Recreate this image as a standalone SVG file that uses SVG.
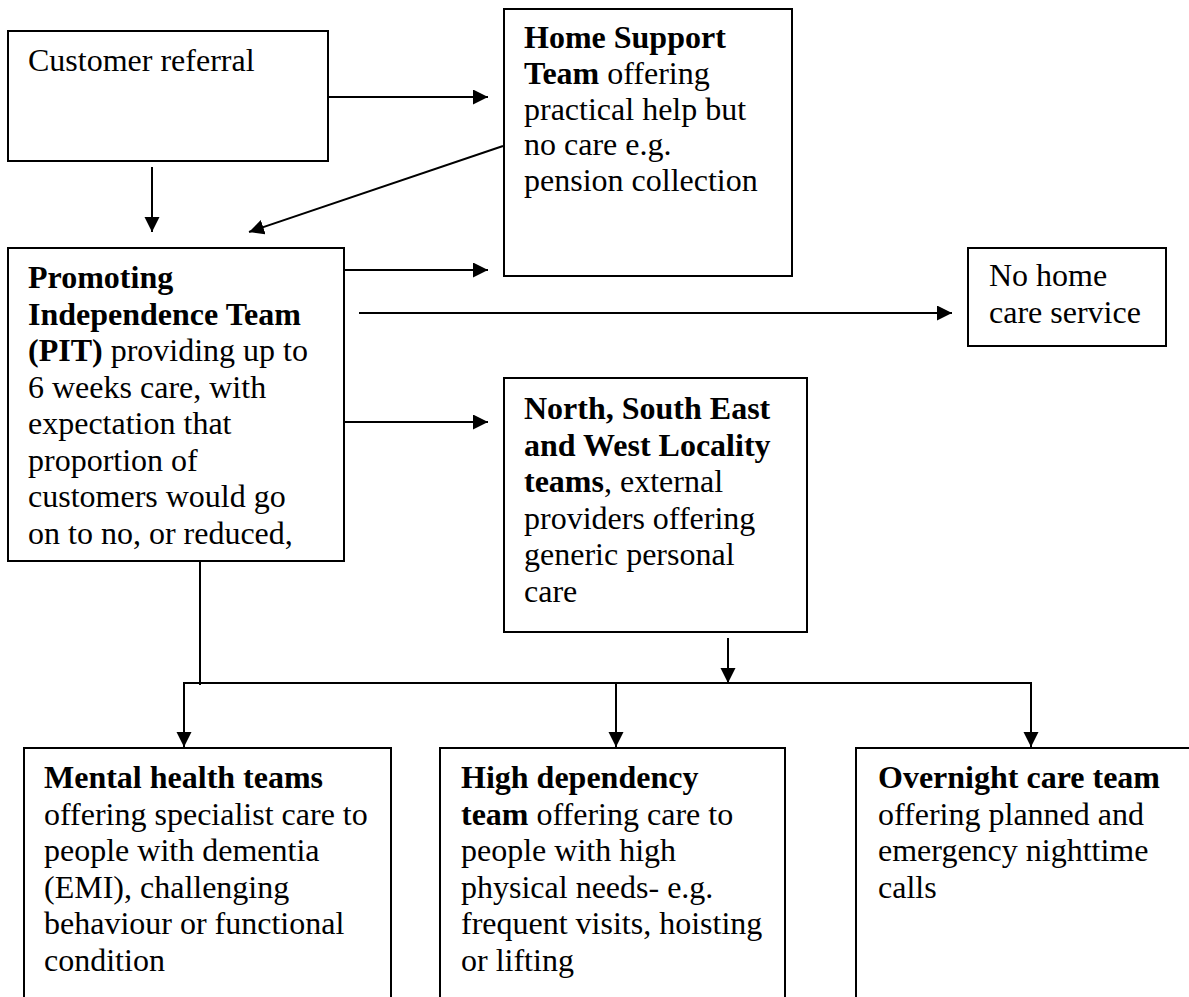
<svg xmlns="http://www.w3.org/2000/svg" width="1189" height="997" viewBox="0 0 1189 997">
<style>
.box{fill:#fff;stroke:#000;stroke-width:2}
.ln{fill:none;stroke:#000;stroke-width:2}
.arr{marker-end:url(#ah)}
.t text{font-size:32px;fill:#000}
.b{font-weight:bold}
</style>
<defs>
<marker id="ah" markerUnits="userSpaceOnUse" markerWidth="16" markerHeight="16" refX="15" refY="7.5" orient="auto">
<path d="M0,0 L15,7.5 L0,15 z" fill="#000"/>
</marker>
</defs>
<rect width="1189" height="997" fill="#fff"/>
<g id="connectors">
<line class="ln arr" x1="328" y1="97" x2="488" y2="97"/>
<line class="ln arr" x1="152" y1="167" x2="152" y2="232"/>
<line class="ln arr" x1="503" y1="146" x2="249" y2="232"/>
<line class="ln arr" x1="344" y1="270" x2="488" y2="270"/>
<line class="ln arr" x1="359" y1="313" x2="952" y2="313"/>
<line class="ln arr" x1="344" y1="422" x2="488" y2="422"/>
<line class="ln" x1="200" y1="561" x2="200" y2="685"/>
<line class="ln arr" x1="728" y1="638" x2="728" y2="683"/>
<line class="ln" x1="183" y1="683" x2="1032" y2="683"/>
<line class="ln arr" x1="184" y1="683" x2="184" y2="747"/>
<line class="ln arr" x1="616" y1="683" x2="616" y2="747"/>
<line class="ln arr" x1="1031" y1="682" x2="1031" y2="747"/>
</g>
<g class="t" font-family="'Liberation Serif', 'DejaVu Serif', serif">
<g id="customer-referral">
<rect class="box" x="8" y="31" width="320" height="130"/>
<text x="28" y="71">Customer referral</text>
</g>
<g id="home-support">
<rect class="box" x="504" y="9" width="288" height="267"/>
<text x="524" y="48"><tspan class="b">Home Support</tspan></text>
<text x="524" y="84"><tspan class="b">Team</tspan> offering</text>
<text x="524" y="120">practical help but</text>
<text x="524" y="155">no care e.g.</text>
<text x="524" y="191">pension collection</text>
</g>
<g id="pit">
<rect class="box" x="8" y="248" width="336" height="313"/>
<text x="28" y="288" class="b">Promoting</text>
<text x="28" y="324.5" class="b">Independence Team</text>
<text x="28" y="361"><tspan class="b">(PIT)</tspan> providing up to</text>
<text x="28" y="397.5">6 weeks care, with</text>
<text x="28" y="434">expectation that</text>
<text x="28" y="470.5">proportion of</text>
<text x="28" y="507">customers would go</text>
<text x="28" y="543.5">on to no, or reduced,</text>
</g>
<g id="no-home-care">
<rect class="box" x="968" y="248" width="198" height="98"/>
<text x="989" y="286">No home</text>
<text x="989" y="323">care service</text>
</g>
<g id="locality-teams">
<rect class="box" x="504" y="378" width="303" height="254"/>
<text x="524" y="419" class="b">North, South East</text>
<text x="524" y="455.5" class="b">and West Locality</text>
<text x="524" y="492"><tspan class="b">teams</tspan>, external</text>
<text x="524" y="528.5">providers offering</text>
<text x="524" y="565">generic personal</text>
<text x="524" y="601.5">care</text>
</g>
<g id="mental-health">
<rect class="box" x="24" y="748" width="367" height="270"/>
<text x="44" y="788" class="b">Mental health teams</text>
<text x="44" y="824.5">offering specialist care to</text>
<text x="44" y="861">people with dementia</text>
<text x="44" y="897.5">(EMI), challenging</text>
<text x="44" y="934">behaviour or functional</text>
<text x="44" y="970.5">condition</text>
</g>
<g id="high-dependency">
<rect class="box" x="440" y="748" width="345" height="270"/>
<text x="461" y="788" class="b">High dependency</text>
<text x="461" y="824.5"><tspan class="b">team</tspan> offering care to</text>
<text x="461" y="861">people with high</text>
<text x="461" y="897.5">physical needs- e.g.</text>
<text x="461" y="934">frequent visits, hoisting</text>
<text x="461" y="970.5">or lifting</text>
</g>
<g id="overnight-care">
<rect class="box" x="856" y="748" width="360" height="270"/>
<text x="878" y="788" class="b">Overnight care team</text>
<text x="878" y="824.5">offering planned and</text>
<text x="878" y="861">emergency nighttime</text>
<text x="878" y="897.5">calls</text>
</g>
</g>
</svg>
